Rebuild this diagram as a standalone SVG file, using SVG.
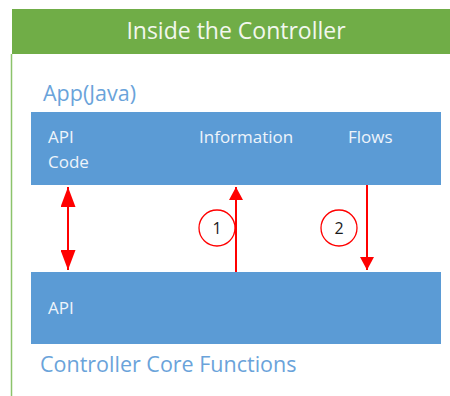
<svg xmlns="http://www.w3.org/2000/svg" width="450" height="396" viewBox="0 0 450 396">
  <style>
    text { font-family: "Open Sans", "Liberation Sans", sans-serif; }
    .title { fill: #f2f7ee; font-size: 23px; }
    .section { fill: #6aa3da; font-size: 21.5px; }
    .box { fill: #5b9bd5; }
    .boxlabel { fill: #eef4fb; font-size: 17px; }
    .flow { stroke: #ff0000; stroke-width: 2; fill: none; }
    .badge { stroke: #ff0000; stroke-width: 1.3; fill: #ffffff; }
    .badgenum { fill: #1a1a1a; font-size: 16px; text-anchor: middle; }
  </style>
  <defs>
    <marker id="head" viewBox="0 0 13 14" refX="13" refY="7" markerWidth="13" markerHeight="14" markerUnits="userSpaceOnUse" orient="auto-start-reverse">
      <path d="M0,0 L13,7 L0,14 Z" fill="#ff0000"/>
    </marker>
    <marker id="bighead" viewBox="0 0 20 15" refX="20" refY="7.5" markerWidth="20" markerHeight="15" markerUnits="userSpaceOnUse" orient="auto-start-reverse">
      <path d="M0,0 L20,7.5 L0,15 Z" fill="#ff0000"/>
    </marker>
  </defs>

  <rect width="450" height="396" fill="#ffffff"/>

  <!-- header bar and frame edge -->
  <g id="header">
    <rect x="12" y="9" width="438" height="45" fill="#70ad47"/>
    <text class="title" x="236" y="39" text-anchor="middle">Inside the Controller</text>
  </g>
  <line x1="11.5" y1="54" x2="11.5" y2="396" stroke="#8cc36b" stroke-width="1.5"/>

  <!-- application layer -->
  <g id="app">
    <text class="section" x="43" y="101">App(Java)</text>
    <rect class="box" x="31" y="112" width="410" height="73"/>
    <text class="boxlabel" x="48" y="143">API</text>
    <text class="boxlabel" x="48" y="168">Code</text>
    <text class="boxlabel" x="199" y="143">Information</text>
    <text class="boxlabel" x="348" y="143">Flows</text>
  </g>

  <!-- controller core layer -->
  <g id="core">
    <rect class="box" x="31" y="272" width="410" height="72"/>
    <text class="boxlabel" x="48" y="314">API</text>
    <text class="section" x="40" y="372">Controller Core Functions</text>
  </g>

  <!-- flows between the layers -->
  <g id="connectors">
    <line class="flow" x1="68" y1="187" x2="68" y2="270" stroke-width="2.4" marker-start="url(#bighead)" marker-end="url(#bighead)"/>
    <line class="flow" x1="236" y1="272" x2="236" y2="187" marker-end="url(#head)"/>
    <line class="flow" x1="367" y1="185" x2="367" y2="270" marker-end="url(#head)"/>
  </g>

  <g id="step1">
    <circle class="badge" cx="217" cy="228" r="18"/>
    <text class="badgenum" x="217" y="234">1</text>
  </g>
  <g id="step2">
    <circle class="badge" cx="339" cy="228" r="18"/>
    <text class="badgenum" x="339" y="234">2</text>
  </g>
</svg>
